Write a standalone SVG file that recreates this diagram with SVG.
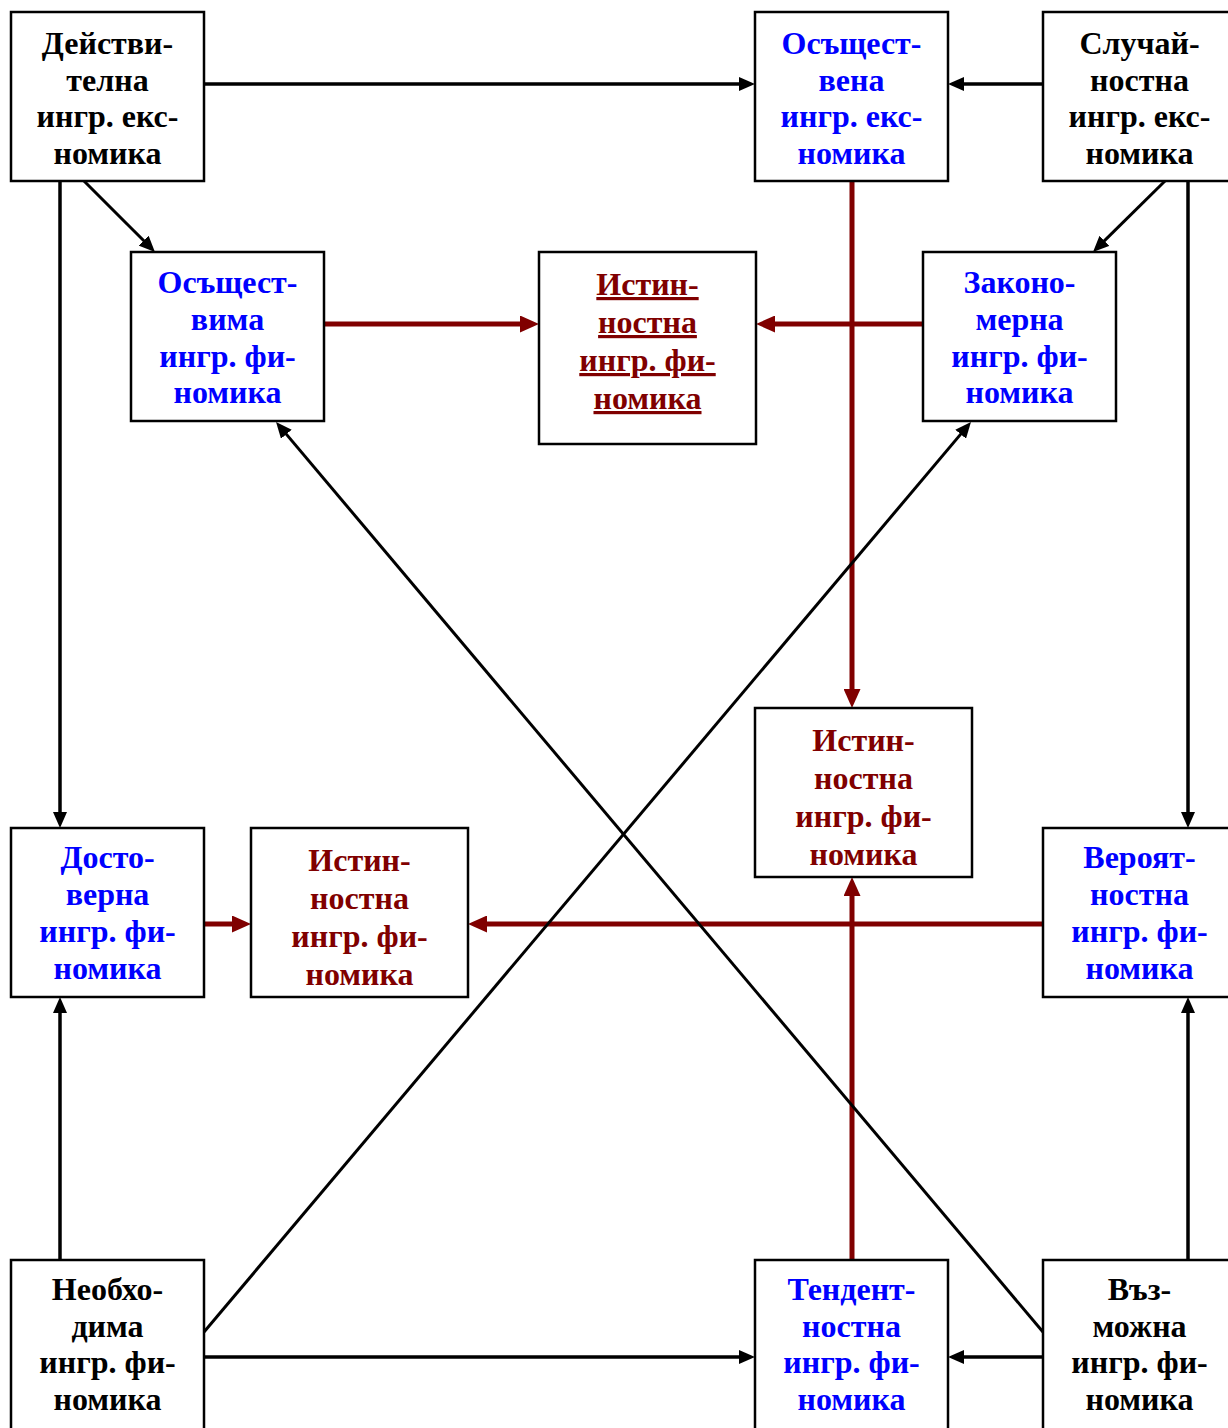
<svg xmlns="http://www.w3.org/2000/svg" width="1228" height="1428" viewBox="0 0 1228 1428">
<style>
.box{fill:#fff;stroke:#000;stroke-width:2.5}
.t{font-family:"Liberation Serif","Times New Roman",serif;font-weight:bold;font-size:32px;text-anchor:middle}
.k{fill:#000}.b{fill:#0000ff}.r{fill:#800000}
.u{text-decoration:underline}
.cb{fill:none;stroke:#000;stroke-width:3.5}
.cd{fill:none;stroke:#000;stroke-width:3}
.cr{fill:none;stroke:#800000;stroke-width:5}
</style>
<defs>
<marker id="ab" markerUnits="userSpaceOnUse" markerWidth="16" markerHeight="14" refX="8" refY="7" orient="auto"><path d="M0,0 L16,7 L0,14 z" fill="#000"/></marker>
<marker id="ar" markerUnits="userSpaceOnUse" markerWidth="19" markerHeight="17" refX="10" refY="8.5" orient="auto"><path d="M0,0 L19,8.5 L0,17 z" fill="#800000"/></marker>
</defs>
<g id="connectors">
<path class="cr" d="M324,324 H530" marker-end="url(#ar)"/>
<path class="cr" d="M923,324 H765" marker-end="url(#ar)"/>
<path class="cr" d="M852,181 V699" marker-end="url(#ar)"/>
<path class="cr" d="M852,1260 V886" marker-end="url(#ar)"/>
<path class="cr" d="M204,924 H242" marker-end="url(#ar)"/>
<path class="cr" d="M1043,924 H477" marker-end="url(#ar)"/>
<path class="cb" d="M204,84 H747" marker-end="url(#ab)"/>
<path class="cb" d="M1043,84 H956" marker-end="url(#ab)"/>
<path class="cb" d="M60,181 V820" marker-end="url(#ab)"/>
<path class="cb" d="M1188,181 V820" marker-end="url(#ab)"/>
<path class="cb" d="M60,1260 V1005" marker-end="url(#ab)"/>
<path class="cb" d="M1188,1260 V1005" marker-end="url(#ab)"/>
<path class="cb" d="M204,1357 H747" marker-end="url(#ab)"/>
<path class="cb" d="M1043,1357 H956" marker-end="url(#ab)"/>
<path class="cd" d="M84,181 L149.3,246.3" marker-end="url(#ab)"/>
<path class="cd" d="M1165,181 L1098.7,246.4" marker-end="url(#ab)"/>
<path class="cd" d="M204,1332 L965.8,428.1" marker-end="url(#ab)"/>
<path class="cd" d="M1043,1332 L281.2,428.1" marker-end="url(#ab)"/>
</g>
<g id="n-deystvitelna"><rect class="box" x="11" y="12" width="193" height="169"/>
<text class="t k"><tspan x="107.5" y="54">Действи-</tspan><tspan x="107.5" y="90.5">телна</tspan><tspan x="107.5" y="127">ингр. екс-</tspan><tspan x="107.5" y="163.5">номика</tspan></text></g>
<g id="n-osashtestvena"><rect class="box" x="755" y="12" width="193" height="169"/>
<text class="t b"><tspan x="851.5" y="54">Осъщест-</tspan><tspan x="851.5" y="90.5">вена</tspan><tspan x="851.5" y="127">ингр. екс-</tspan><tspan x="851.5" y="163.5">номика</tspan></text></g>
<g id="n-sluchaynostna"><rect class="box" x="1043" y="12" width="193" height="169"/>
<text class="t k"><tspan x="1139.5" y="54">Случай-</tspan><tspan x="1139.5" y="90.5">ностна</tspan><tspan x="1139.5" y="127">ингр. екс-</tspan><tspan x="1139.5" y="163.5">номика</tspan></text></g>
<g id="n-osashtestvima"><rect class="box" x="131" y="252" width="193" height="169"/>
<text class="t b"><tspan x="227.5" y="293">Осъщест-</tspan><tspan x="227.5" y="330">вима</tspan><tspan x="227.5" y="366.5">ингр. фи-</tspan><tspan x="227.5" y="403">номика</tspan></text></g>
<g id="n-istinnostna-top"><rect class="box" x="539" y="252" width="217" height="192"/>
<text class="t r u"><tspan x="647.5" y="295">Истин-</tspan><tspan x="647.5" y="333">ностна</tspan><tspan x="647.5" y="371">ингр. фи-</tspan><tspan x="647.5" y="409">номика</tspan></text></g>
<g id="n-zakonomerna"><rect class="box" x="923" y="252" width="193" height="169"/>
<text class="t b"><tspan x="1019.5" y="293">Законо-</tspan><tspan x="1019.5" y="330">мерна</tspan><tspan x="1019.5" y="366.5">ингр. фи-</tspan><tspan x="1019.5" y="403">номика</tspan></text></g>
<g id="n-istinnostna-right"><rect class="box" x="755" y="708" width="217" height="169"/>
<text class="t r"><tspan x="863.5" y="751">Истин-</tspan><tspan x="863.5" y="789">ностна</tspan><tspan x="863.5" y="827">ингр. фи-</tspan><tspan x="863.5" y="865">номика</tspan></text></g>
<g id="n-dostoverna"><rect class="box" x="11" y="828" width="193" height="169"/>
<text class="t b"><tspan x="107.5" y="868">Досто-</tspan><tspan x="107.5" y="905">верна</tspan><tspan x="107.5" y="942">ингр. фи-</tspan><tspan x="107.5" y="979">номика</tspan></text></g>
<g id="n-istinnostna-left"><rect class="box" x="251" y="828" width="217" height="169"/>
<text class="t r"><tspan x="359.5" y="871">Истин-</tspan><tspan x="359.5" y="909">ностна</tspan><tspan x="359.5" y="947">ингр. фи-</tspan><tspan x="359.5" y="985">номика</tspan></text></g>
<g id="n-veroyatnostna"><rect class="box" x="1043" y="828" width="193" height="169"/>
<text class="t b"><tspan x="1139.5" y="868">Вероят-</tspan><tspan x="1139.5" y="905">ностна</tspan><tspan x="1139.5" y="942">ингр. фи-</tspan><tspan x="1139.5" y="979">номика</tspan></text></g>
<g id="n-neobhodima"><rect class="box" x="11" y="1260" width="193" height="175"/>
<text class="t k"><tspan x="107.5" y="1300">Необхо-</tspan><tspan x="107.5" y="1337">дима</tspan><tspan x="107.5" y="1373">ингр. фи-</tspan><tspan x="107.5" y="1410">номика</tspan></text></g>
<g id="n-tendentnostna"><rect class="box" x="755" y="1260" width="193" height="175"/>
<text class="t b"><tspan x="851.5" y="1300">Тендент-</tspan><tspan x="851.5" y="1337">ностна</tspan><tspan x="851.5" y="1373">ингр. фи-</tspan><tspan x="851.5" y="1410">номика</tspan></text></g>
<g id="n-vazmozhna"><rect class="box" x="1043" y="1260" width="193" height="175"/>
<text class="t k"><tspan x="1139.5" y="1300">Въз-</tspan><tspan x="1139.5" y="1337">можна</tspan><tspan x="1139.5" y="1373">ингр. фи-</tspan><tspan x="1139.5" y="1410">номика</tspan></text></g>
</svg>
